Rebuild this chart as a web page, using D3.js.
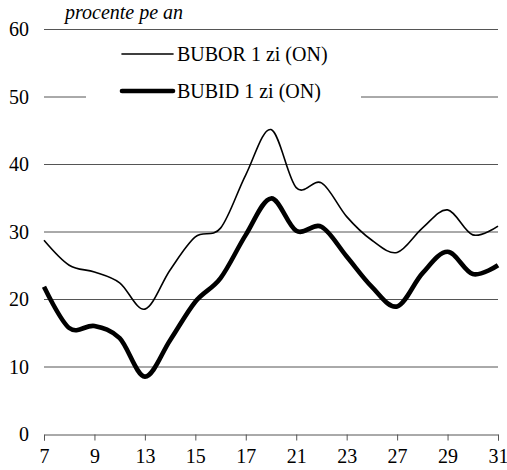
<!DOCTYPE html>
<html>
<head>
<meta charset="utf-8">
<script src="https://cdn.jsdelivr.net/npm/d3@7"></script>
<style>
  body { margin: 0; background: #fff; }
</style>
</head>
<body>
<div id="chart"></div>
<script>
// business days of the month (weekends skipped)
var days = ["7", "8", "9", "10", "13", "14", "15", "16", "17", "20", "21", "22", "23", "24", "27", "28", "29", "30", "31"];
var tickDays = ["7", "9", "13", "15", "17", "21", "23", "27", "29", "31"];
var yTicks = [0, 10, 20, 30, 40, 50, 60];

var bubor = [28.7, 25.0, 24.0, 22.4, 18.5, 24.3, 29.2, 30.5, 38.4, 45.1, 36.5, 37.2, 32.2, 28.7, 26.9, 30.5, 33.2, 29.5, 30.8];
var bubid = [21.8, 15.7, 16.0, 14.2, 8.5, 13.9, 19.6, 23.1, 29.5, 34.9, 30.1, 30.7, 26.3, 21.8, 18.9, 23.8, 27.0, 23.7, 25.0];

var series = [
    {name: "BUBOR 1 zi (ON)", values: bubor, width: 1.6},
    {name: "BUBID 1 zi (ON)", values: bubid, width: 4.6}
];

var FONT = "'Liberation Serif', 'Times New Roman', Times, Tinos, 'DejaVu Serif', serif";

var W = 507, H = 470;
var margin = {top: 29, right: 9, bottom: 36, left: 44};
var width = W - margin.left - margin.right;
var height = H - margin.top - margin.bottom;

var svg = d3.select("#chart").append("svg")
    .attr("width", W)
    .attr("height", H)
    .style("font-family", FONT)
    .append("g")
    .attr("transform", "translate(" + margin.left + "," + margin.top + ")");

var x = d3.scalePoint().domain(days).range([0, width]);
var y = d3.scaleLinear().domain([0, 60]).range([height, 0]);

// gridlines
svg.append("g")
    .selectAll("line")
    .data(yTicks.filter(d => d > 0))
    .enter().append("line")
    .attr("x1", 0)
    .attr("x2", width)
    .attr("y1", d => y(d) + 0.5)
    .attr("y2", d => y(d) + 0.5)
    .attr("stroke", "#555")
    .attr("stroke-width", 1);

// y labels
svg.append("g")
    .selectAll("text")
    .data(yTicks)
    .enter().append("text")
    .attr("x", -15)
    .attr("y", d => y(d))
    .attr("dy", "0.35em")
    .attr("text-anchor", "end")
    .style("font-family", FONT)
    .style("font-size", "20px")
    .text(d => d);

// x axis
var xAxis = d3.axisBottom(x)
    .tickValues(tickDays)
    .tickSize(6)
    .tickPadding(8);

var gx = svg.append("g")
    .attr("transform", "translate(0," + (height + 0.5) + ")")
    .call(xAxis);
gx.select(".domain").attr("stroke", "#555");
gx.selectAll(".tick line").attr("stroke", "#555");
gx.selectAll(".tick text")
    .attr("fill", "#000")
    .style("font-family", FONT)
    .style("font-size", "20px");

// lines
var line = d3.line()
    .x((d, i) => x(days[i]))
    .y(d => y(d))
    .curve(d3.curveCardinal.tension(0));

series.forEach(s => {
    svg.append("path")
        .datum(s.values)
        .attr("fill", "none")
        .attr("stroke", "#000")
        .attr("stroke-width", s.width)
        .attr("stroke-linejoin", "round")
        .attr("d", line);
});

// unit label
svg.append("text")
    .attr("x", 21)
    .attr("y", -10)
    .style("font-family", FONT)
    .style("font-size", "20px")
    .style("font-style", "italic")
    .text("procente pe an");

// legend
var legend = svg.append("g").attr("transform", "translate(42,5)");
legend.append("rect")
    .attr("width", 275)
    .attr("height", 78)
    .attr("fill", "#fff");

series.forEach((s, i) => {
    var row = legend.append("g")
        .attr("transform", "translate(0," + (20 + i * 37) + ")");
    row.append("line")
        .attr("x1", 36)
        .attr("x2", 87)
        .attr("stroke", "#000")
        .attr("stroke-width", s.width)
        .attr("stroke-linecap", "round");
    row.append("text")
        .attr("x", 91)
        .attr("y", 7)
        .style("font-family", FONT)
        .style("font-size", "20px")
        .text(s.name);
});
</script>
</body>
</html>
